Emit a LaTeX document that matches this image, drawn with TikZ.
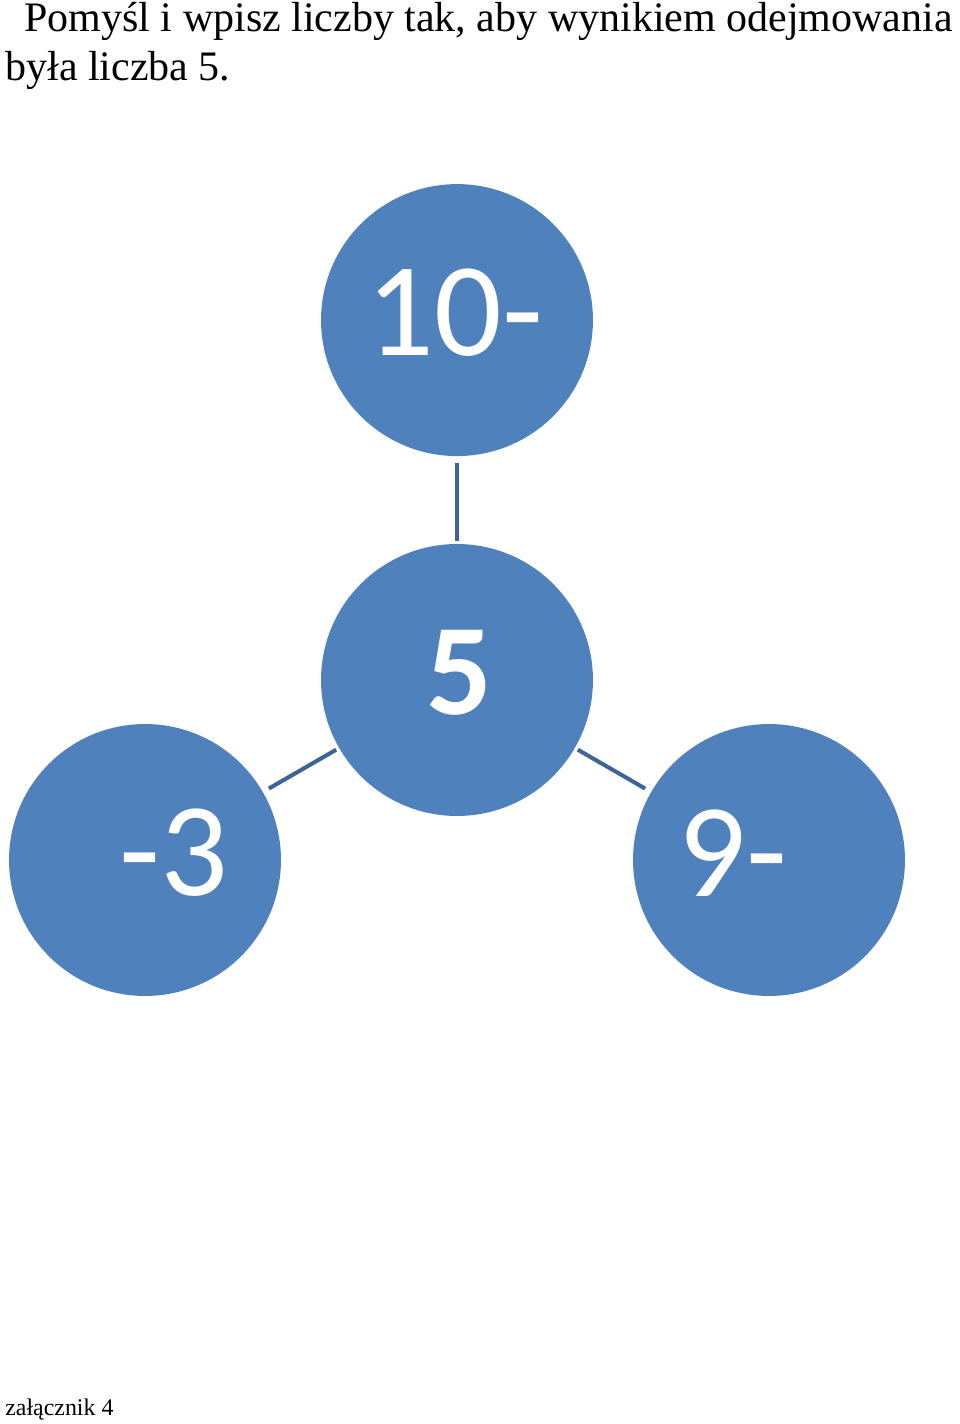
\documentclass[tikz,border=0pt]{standalone}
\usepackage{fontspec}
\setmainfont{Liberation Serif}
\newfontfamily\numfont{Carlito}
\usepackage{tikz}
\usetikzlibrary{positioning}
\definecolor{circblue}{HTML}{4F81BD}
\definecolor{linkblue}{HTML}{3C6496}

\begin{document}
\begin{tikzpicture}[
x=0.02cm, y=-0.02cm,
circ/.style={circle, fill=circblue, minimum size=5.44cm, inner sep=0pt, outer sep=0pt},
num/.style={yshift=0.14cm, text=white, font=\numfont\fontsize{76}{76}\selectfont},
link/.style={draw=linkblue, line width=2.3pt, shorten <=4pt, shorten >=2pt},
title/.style={anchor=base west, inner sep=0pt, font=\fontsize{23.9}{28}\selectfont}
]
\useasboundingbox (0,0) rectangle (960,1424);
% task text
\node[title] (line1) at (24,31) {Pomyśl i wpisz liczby tak, aby wynikiem odejmowania};
\node[title] (line2) at (5,80) {była liczba 5.};
% circles
\node[circ] (mid) at (457,680) {};
\node[circ, above=1.76cm of mid] (top) {};
\node[circ] (left) at (145,860) {};
\node[circ] (right) at (769,860) {};
\node[num, xshift=0.04cm, font=\numfont\bfseries\fontsize{74}{74}\selectfont] (midtxt) at (mid) {5};
\node[num, xshift=-0.04cm] (toptxt) at (top) {10-};
\node[num, xshift=0.57cm] (lefttxt) at (left) {-3};
\node[num, xshift=-0.72cm] (righttxt) at (right) {9-};
% connectors
\draw[link] (top) -- (mid);
\draw[link] (left) -- (mid);
\draw[link] (right) -- (mid);
% footer
\node[anchor=base west, inner sep=0pt, font=\fontsize{13.6}{16}\selectfont] (foot) at (5,1415) {załącznik 4};
\end{tikzpicture}
\end{document}
